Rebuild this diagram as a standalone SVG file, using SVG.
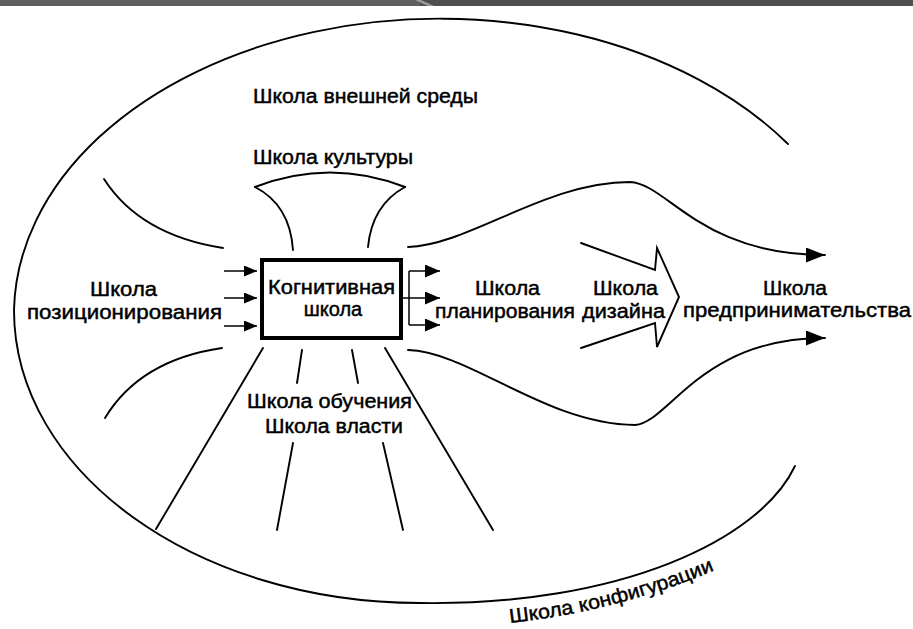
<svg xmlns="http://www.w3.org/2000/svg" width="913" height="629" viewBox="0 0 913 629">
<style>
.ln{fill:none;stroke:#000;stroke-width:1.9;stroke-linecap:round}
.thin{fill:none;stroke:#000;stroke-width:1.5}
.t{font-family:"Liberation Sans",Arial,sans-serif;font-size:20px;fill:#000;stroke:#000;stroke-width:0.45}
.box{fill:#fff;stroke:#000;stroke-width:4}
</style>
<defs>
<marker id="ahS" markerUnits="userSpaceOnUse" markerWidth="13" markerHeight="11" refX="13" refY="5.5" orient="auto">
<path d="M0,0 L13,5.5 L0,11 z" fill="#000"/>
</marker>
<marker id="ahM" markerUnits="userSpaceOnUse" markerWidth="15" markerHeight="13" refX="15" refY="6.5" orient="auto">
<path d="M0,0 L15,6.5 L0,13 z" fill="#000"/>
</marker>
<marker id="ahL" markerUnits="userSpaceOnUse" markerWidth="19" markerHeight="15" refX="19" refY="7.5" orient="auto">
<path d="M0,0 L19,7.5 L0,15 z" fill="#000"/>
</marker>
<path id="cfgPath" d="M500,624 Q625,612 738,560"/>
</defs>

<g id="topbar">
<rect x="0" y="0" width="913" height="6" fill="#4f4f4f"/>
<rect x="0" y="0" width="420" height="6" fill="#5e5e5e"/>
<polygon points="415,0 421,0 434,6 428,6" fill="#9a9a9a"/>
</g>

<g id="configuration">
<path class="ln" d="M788,144 A426,296 0 0 0 14,310 C14,472 196,603 420,603 C620,606 760,540 795,466"/>
<text class="t"><textPath href="#cfgPath" startOffset="10" textLength="212" lengthAdjust="spacingAndGlyphs">Школа конфигурации</textPath></text>
</g>

<g id="environment">
<text class="t" x="253" y="103" textLength="225" lengthAdjust="spacingAndGlyphs">Школа внешней среды</text>
</g>

<g id="culture">
<path class="ln" d="M255,187 Q330,158 405,187"/>
<path class="ln" d="M255,187 Q290,205 293,250"/>
<path class="ln" d="M405,187 Q372,205 368,247"/>
<text class="t" x="253" y="164" textLength="160" lengthAdjust="spacingAndGlyphs">Школа культуры</text>
</g>

<g id="positioning">
<text class="t" x="90" y="296" textLength="67" lengthAdjust="spacingAndGlyphs">Школа</text>
<text class="t" x="27" y="319" textLength="195" lengthAdjust="spacingAndGlyphs">позиционирования</text>
</g>

<g id="cognitive">
<rect class="box" x="262" y="260" width="139" height="78"/>
<text class="t" x="268" y="294" textLength="127" lengthAdjust="spacingAndGlyphs">Когнитивная</text>
<text class="t" x="333" y="316" text-anchor="middle">школа</text>
</g>

<g id="planning">
<text class="t" x="475" y="295" textLength="65" lengthAdjust="spacingAndGlyphs">Школа</text>
<text class="t" x="435" y="318" textLength="140" lengthAdjust="spacingAndGlyphs">планирования</text>
</g>

<g id="design">
<path class="ln" d="M581,243 L655,270 L657,248 L679,297 L657,347 L655,323 L581,348" stroke-linejoin="miter"/>
<text class="t" x="593" y="295" textLength="65" lengthAdjust="spacingAndGlyphs">Школа</text>
<text class="t" x="582" y="318" textLength="83" lengthAdjust="spacingAndGlyphs">дизайна</text>
</g>

<g id="entrepreneurship">
<text class="t" x="763" y="295" textLength="64" lengthAdjust="spacingAndGlyphs">Школа</text>
<text class="t" x="683" y="317" textLength="228" lengthAdjust="spacingAndGlyphs">предпринимательства</text>
</g>

<g id="learning-power">
<text class="t" x="247" y="408" textLength="165" lengthAdjust="spacingAndGlyphs">Школа обучения</text>
<text class="t" x="265" y="433" textLength="138" lengthAdjust="spacingAndGlyphs">Школа власти</text>
</g>

<g id="connectors">
<path class="ln" d="M104,179 Q140,235 223,248"/>
<path class="ln" d="M222,348 Q140,360 105,418"/>
<line class="thin" x1="224" y1="271" x2="257" y2="271" marker-end="url(#ahS)"/>
<line class="thin" x1="224" y1="298" x2="257" y2="298" marker-end="url(#ahS)"/>
<line class="thin" x1="224" y1="326" x2="257" y2="326" marker-end="url(#ahS)"/>
<line class="thin" x1="409" y1="271" x2="409" y2="325"/>
<line class="thin" x1="409" y1="271" x2="440" y2="271" marker-end="url(#ahM)"/>
<line class="thin" x1="403" y1="298" x2="440" y2="298" marker-end="url(#ahM)"/>
<line class="thin" x1="409" y1="325" x2="440" y2="325" marker-end="url(#ahM)"/>
<path class="ln" d="M408,247 C470,245 545,182 630,182 C668,184 700,255 825,255" marker-end="url(#ahL)"/>
<path class="ln" d="M408,350 C470,352 545,424 635,425 C670,422 700,338 825,338" marker-end="url(#ahL)"/>
<line class="ln" x1="263" y1="348" x2="156" y2="529"/>
<line class="ln" x1="302" y1="350" x2="297" y2="383"/>
<line class="ln" x1="352" y1="350" x2="358" y2="383"/>
<line class="ln" x1="385" y1="348" x2="493" y2="530"/>
<line class="ln" x1="293" y1="443" x2="277" y2="530"/>
<line class="ln" x1="383" y1="443" x2="403" y2="530"/>
</g>
</svg>
